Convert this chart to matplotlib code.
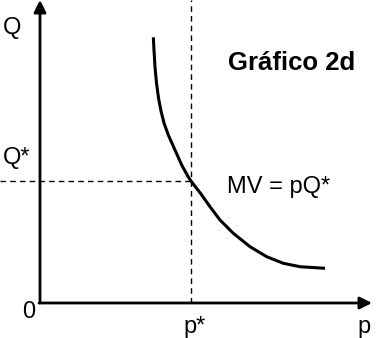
import matplotlib.pyplot as plt
import numpy as np

plt.rcParams['font.family'] = ['Liberation Sans', 'DejaVu Sans']

# curve MV = pQ* (p, Q)
p_curve = [113.3, 114, 115, 116.5, 118.5, 121, 124, 128.3, 135, 141.7,
           148.3, 151.7, 161, 170, 180, 193.3, 210, 226.7, 243.3, 260, 285]
q_curve = [265.7, 253, 236, 220, 205, 192, 180, 168, 153, 138,
           126, 121, 109, 96.3, 83, 69.7, 56.3, 46.3, 39.7, 36.3, 34.7]
p_star = 151
q_star = 122
p_max = 332
q_max = 303

fig = plt.figure(figsize=(3.82, 3.38), dpi=100)
ax = fig.add_axes([0, 0, 1, 1])
ax.set_xlim(-40, 342)
ax.set_ylim(-35, 303)
ax.axis('off')

# axes with arrows
ax.annotate('', xy=(0, q_max), xytext=(0, 0),
            arrowprops=dict(arrowstyle='-|>', lw=2, color='black',
                            mutation_scale=18, shrinkA=0, shrinkB=0))
ax.annotate('', xy=(p_max, 0), xytext=(-1, 0),
            arrowprops=dict(arrowstyle='-|>', lw=2, color='black',
                            mutation_scale=18, shrinkA=0, shrinkB=0))

# dashed guides
ax.plot([p_star, p_star], [0, q_max], ls=(0, (4, 3)), lw=1, color='black')
ax.plot([-40, p_star], [q_star, q_star], ls=(0, (4, 3)), lw=1, color='black')

ax.plot(p_curve, q_curve, color='black', lw=2.2, solid_capstyle='butt',
        solid_joinstyle='round')

fs = 17
ax.text(-28, 275, 'Q', fontsize=fs, ha='center', va='center')
ax.text(-23, 145, 'Q*', fontsize=fs, ha='center', va='center')
ax.text(-11, -9, '0', fontsize=fs, ha='center', va='center')
ax.text(p_star + 4, -24, 'p*', fontsize=fs, ha='center', va='center')
ax.text(324, -24, 'p', fontsize=fs, ha='center', va='center')
ax.text(252, 240, 'Gráfico 2d', fontsize=18.5, fontweight='bold', ha='center', va='center')
ax.text(187, 116, 'MV = pQ*', fontsize=fs, ha='left', va='center')

plt.savefig('out.png', dpi=100)
